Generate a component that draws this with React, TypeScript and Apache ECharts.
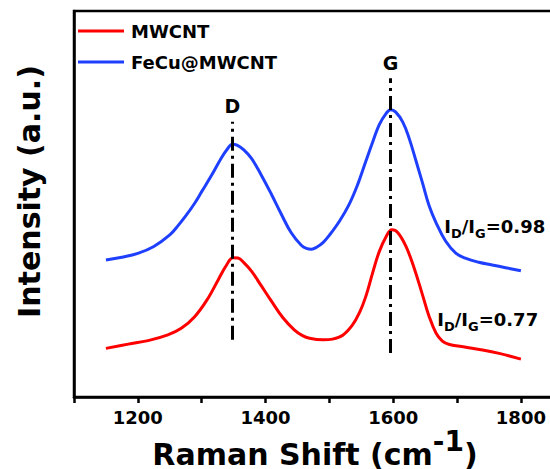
import React, { useEffect, useRef } from "react";
import * as echarts from "echarts";

const FONT = "DejaVu Sans";

const mwcntX = [1150, 1185, 1216, 1247, 1268, 1289, 1310, 1326, 1339, 1349, 1357, 1366, 1378, 1393, 1409, 1427, 1445, 1458, 1469, 1490, 1505, 1521, 1536, 1547, 1557, 1568, 1578, 1589, 1598, 1607, 1620, 1633, 1646, 1656, 1667, 1677, 1688, 1714, 1740, 1766, 1800];
const mwcntY = [12.6, 13.7, 14.6, 16.1, 17.8, 20.8, 25.6, 30.4, 34.2, 36.1, 36.0, 34.8, 32.6, 28.9, 24.9, 20.6, 17.4, 15.9, 15.2, 14.8, 15.0, 16.0, 18.6, 21.8, 26.0, 32.3, 37.6, 41.6, 43.3, 42.6, 39.0, 33.3, 26.4, 21.0, 16.6, 14.5, 13.6, 12.9, 12.2, 11.3, 9.8];

const fecuX = [1150, 1175, 1200, 1225, 1250, 1263, 1275, 1289, 1300, 1315, 1331, 1340, 1348, 1356, 1366, 1378, 1393, 1409, 1424, 1440, 1456, 1464, 1472, 1480, 1490, 1500, 1516, 1531, 1544, 1557, 1568, 1578, 1589, 1596, 1604, 1615, 1625, 1636, 1646, 1656, 1667, 1682, 1698, 1714, 1734, 1755, 1776, 1800];
const fecuY = [35.5, 36.2, 37.2, 39.0, 42.0, 44.4, 46.9, 50.2, 53.2, 57.3, 62.0, 64.2, 65.5, 65.2, 64.0, 61.8, 57.6, 52.6, 47.6, 42.6, 39.3, 38.5, 38.3, 38.8, 40.0, 41.9, 45.6, 49.9, 54.9, 61.0, 66.1, 70.5, 73.5, 74.4, 73.8, 71.2, 67.0, 61.0, 55.4, 49.7, 45.2, 40.4, 37.3, 35.9, 34.9, 34.2, 33.5, 32.7];

const seriesNames = ["MWCNT", "FeCu@MWCNT"];
const xTicks = { min: 1100, max: 1855, interval: 100 };
const peakLines = [
  { name: "D", x: 1348, y0: 14.8, y1: 71.3 },
  { name: "G", x: 1596, y0: 11.4, y1: 82.6 },
];
const ratioLabels = [
  { value: "0.98", x: 1680, y: 44.3 },
  { value: "0.77", x: 1669, y: 20.2 },
];

export default function App() {
  const ref = useRef<HTMLDivElement>(null);
  useEffect(() => {
    if (!ref.current) return;
    const chart = echarts.init(ref.current, null, { renderer: "svg" });
    const ratioRich = {
      a: { fontFamily: FONT, fontWeight: "bold", fontSize: 18, color: "#000", lineHeight: 28, verticalAlign: "middle" },
      b: { fontFamily: FONT, fontWeight: "bold", fontSize: 13, color: "#000", lineHeight: 13, verticalAlign: "bottom" },
    };
    chart.setOption({
      animation: false,
      backgroundColor: "#fff",
      grid: {
        left: 74,
        top: 11,
        width: 482,
        height: 386,
        outerBoundsMode: "none",
        containLabel: false,
        show: true,
        borderColor: "#000",
        borderWidth: 2.5,
      },
      legend: {
        orient: "vertical",
        left: 78,
        top: 21,
        padding: 0,
        itemWidth: 46,
        itemHeight: 3,
        itemGap: 11,
        icon: "rect",
        data: seriesNames,
        textStyle: { fontFamily: FONT, fontWeight: "bold", fontSize: 18, color: "#000", lineHeight: 20, padding: [0, 0, 0, 2] },
      },
      xAxis: {
        type: "value",
        min: xTicks.min,
        max: xTicks.max,
        interval: xTicks.interval,
        splitLine: { show: false },
        axisLine: { show: true, lineStyle: { color: "#000", width: 2.5 } },
        axisTick: { show: true, inside: false, length: 6, lineStyle: { color: "#000", width: 2.5 } },
        axisLabel: {
          margin: 11,
          fontFamily: FONT,
          fontWeight: "bold",
          fontSize: 18,
          color: "#000",
          showMaxLabel: false,
          formatter: (v: number) => (v % 200 === 0 ? String(v) : ""),
        },
        name: "{a|Raman Shift (cm}{s|-1}{a|)}",
        nameLocation: "middle",
        nameGap: 30,
        nameMoveOverlap: false,
        nameTextStyle: {
          rich: {
            a: { fontFamily: FONT, fontWeight: "bold", fontSize: 30, color: "#000", lineHeight: 54, verticalAlign: "middle" },
            s: { fontFamily: FONT, fontWeight: "bold", fontSize: 28, color: "#000", lineHeight: 28, verticalAlign: "top" },
          },
        },
      },
      yAxis: {
        type: "value",
        min: 0,
        max: 100,
        splitLine: { show: false },
        axisLine: { show: true, lineStyle: { color: "#000", width: 2.5 } },
        axisTick: { show: false },
        axisLabel: { show: false },
        name: "Intensity (a.u.)",
        nameLocation: "middle",
        nameGap: 30,
        nameMoveOverlap: false,
        nameTextStyle: {
          fontFamily: FONT,
          fontWeight: "bold",
          fontSize: 30,
          color: "#000",
          padding: [0, 0, 0, 25],
        },
      },
      series: [
        {
          name: seriesNames[0],
          type: "line",
          smooth: 0.4,
          symbol: "none",
          data: mwcntX.map((x, i) => [x, mwcntY[i]]),
          lineStyle: { color: "#ff0000", width: 3 },
          itemStyle: { color: "#ff0000" },
          markPoint: {
            symbol: "circle",
            symbolSize: 0,
            data: ratioLabels.map((r) => ({ coord: [r.x, r.y], value: r.value })),
            label: {
              show: true,
              position: [0, 0],
              align: "left",
              verticalAlign: "middle",
              formatter: (p: any) => `{a|I}{b|D}{a|/I}{b|G}{a|=${p.value}}`,
              rich: ratioRich,
            },
          },
        },
        {
          name: seriesNames[1],
          type: "line",
          smooth: 0.4,
          symbol: "none",
          data: fecuX.map((x, i) => [x, fecuY[i]]),
          lineStyle: { color: "#1f3fff", width: 3 },
          itemStyle: { color: "#1f3fff" },
          markLine: {
            silent: true,
            symbol: ["none", "none"],
            lineStyle: { color: "#000", width: 3, type: [14, 5, 3, 5] },
            label: {
              show: true,
              position: "end",
              distance: 6,
              fontFamily: FONT,
              fontWeight: "bold",
              fontSize: 19,
              color: "#000",
              formatter: (p: any) => p.name,
            },
            data: peakLines.map((l) => [
              { name: l.name, coord: [l.x, l.y0] },
              { name: l.name, coord: [l.x, l.y1] },
            ]),
          },
        },
      ],
    });
    return () => chart.dispose();
  }, []);
  return <div ref={ref} style={{ width: 550, height: 469, position: "absolute", left: 0, top: 0 }} />;
}
